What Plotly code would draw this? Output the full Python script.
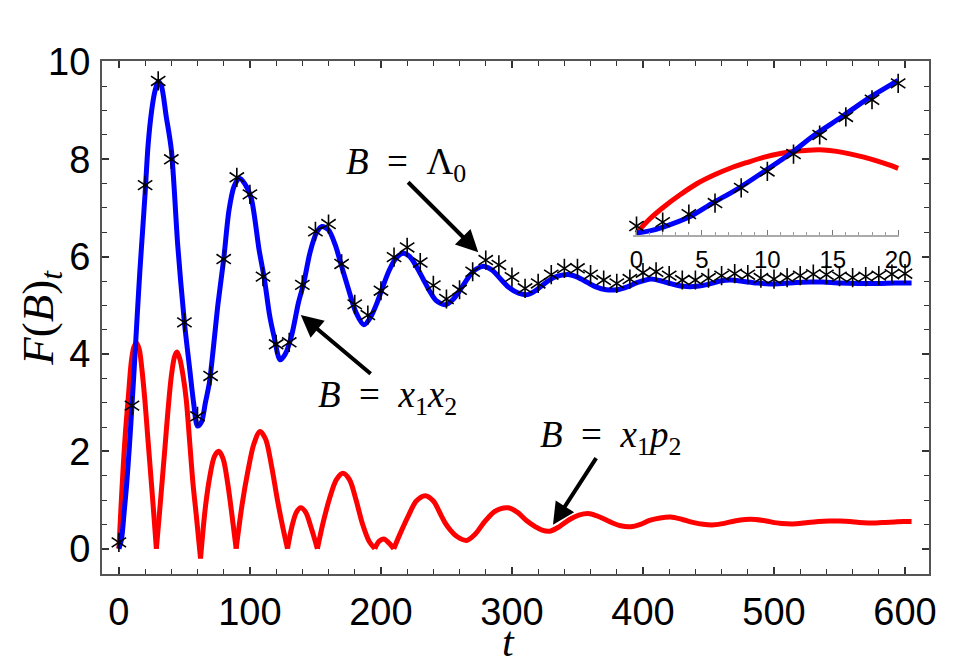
import plotly.graph_objects as go

# ---------------- data ----------------
blue_t = [0, 2, 4, 6, 8, 10, 12, 14, 16, 18, 20, 22.3, 25, 27.5, 30, 32.5, 36, 40, 45, 50,
          54, 57, 60, 63, 66, 69, 72, 75.5, 80, 84, 88, 92, 96, 101, 107, 111, 115, 118.5,
          123, 127, 132, 137, 141, 146, 151, 155, 160, 165, 170, 175, 181, 187, 192, 197,
          201, 206, 211, 217, 222, 227, 232, 237, 242, 249, 255, 262, 268, 273, 279, 285,
          292, 298, 305, 312, 318, 325, 332, 338, 344, 350, 357, 364, 372, 380, 388, 396,
          406, 414, 422, 431, 441, 451, 459, 467, 477, 487, 497, 507, 517, 527, 537, 550,
          565, 580, 592, 605]
blue_y = [0, 0.2, 0.75, 1.35, 2.1, 2.95, 3.85, 4.8, 5.7, 6.5, 7.3, 8.3, 9.0, 9.4, 9.6, 9.5,
          8.9, 8.2, 6.2, 4.65, 3.7, 3.0, 2.52, 2.6, 3.0, 3.4, 4.1, 5.0, 5.95, 6.95, 7.45,
          7.61, 7.5, 7.2, 6.14, 5.55, 4.8, 4.35, 3.88, 4.0, 4.4, 5.05, 5.45, 6.1, 6.5, 6.62,
          6.55, 6.25, 5.8, 5.35, 4.85, 4.6, 4.75, 5.05, 5.35, 5.7, 5.95, 6.07, 6.0, 5.8,
          5.55, 5.3, 5.1, 5.01, 5.12, 5.38, 5.62, 5.75, 5.80, 5.72, 5.52, 5.36, 5.25, 5.22,
          5.3, 5.45, 5.57, 5.62, 5.63, 5.58, 5.48, 5.38, 5.32, 5.32, 5.38, 5.47, 5.54, 5.5,
          5.44, 5.39, 5.39, 5.44, 5.5, 5.52, 5.49, 5.46, 5.44, 5.45, 5.47, 5.48, 5.48, 5.46,
          5.45, 5.45, 5.46, 5.46]

red_t = [0, 1.5, 3.3, 5, 7, 9.5, 11.5, 13.5, 15.5, 17.5, 19.8, 22, 24.8, 26.8, 28.6,
         31.5, 35, 37.5, 40, 42.5, 44.3, 46.5, 49, 51.4, 54, 56.5, 59, 62.3,
         66, 69.5, 73, 76.2, 79.5, 83, 86, 89.5,
         94, 98.5, 103, 107.7, 112, 116.5, 121, 125, 128.7,
         132, 135.5, 138.8, 142.5, 146.5, 151.5,
         156, 161, 166, 171, 176, 181, 186, 191, 195.3,
         198.5, 202.1, 206, 209.8,
         215, 221, 227, 233.8, 240, 246, 249, 253, 258, 265.4, 272, 279, 286, 291, 297.1,
         304, 311, 318, 323, 328.9, 336, 344, 351, 359.3, 367, 375, 383, 390.6, 398, 405,
         413, 421, 430, 438, 446, 454.4, 462, 470, 478, 485.8, 494, 502, 510, 517.1, 526,
         534, 542, 550.5, 558, 565, 572, 577.9, 585, 592, 599, 605]
red_y = [0, 0.8, 1.69, 2.4, 3.05, 3.85, 4.15, 4.22, 4.1, 3.7, 3.06, 2.3, 1.35, 0.65, 0,
         0.9, 2.03, 2.85, 3.54, 3.95, 4.04, 3.9, 3.55, 3.06, 2.2, 1.35, 0.7, -0.2,
         0.85, 1.5, 1.9, 2.0, 1.85, 1.35, 0.75, 0,
         0.9, 1.6, 2.15, 2.41, 2.25, 1.7, 1.0, 0.45, 0,
         0.45, 0.75, 0.84, 0.75, 0.45, 0,
         0.55, 1.05, 1.42, 1.55, 1.42, 1.0, 0.5, 0.15, 0,
         0.15, 0.2, 0.12, 0,
         0.33, 0.68, 0.98, 1.09, 0.98, 0.68, 0.53, 0.38, 0.25, 0.17, 0.3, 0.55, 0.75, 0.82,
         0.84, 0.75, 0.58, 0.45, 0.38, 0.36, 0.45, 0.6, 0.69, 0.72, 0.65, 0.55, 0.47, 0.45,
         0.5, 0.58, 0.63, 0.65, 0.6, 0.54, 0.5, 0.49, 0.52, 0.57, 0.6, 0.6, 0.57, 0.53,
         0.51, 0.51, 0.54, 0.56, 0.57, 0.57, 0.56, 0.54, 0.53, 0.53, 0.54, 0.55, 0.56, 0.56]

star_t = [0, 10, 20, 30, 40, 50, 60, 70, 80, 90, 100, 110, 120, 130, 140, 150, 160, 170,
          180, 190, 200, 210, 220, 230, 240, 250, 260, 270, 280, 290, 300, 310, 320, 330,
          340, 350, 360, 370, 380, 390, 400, 410, 420, 430, 440, 450, 460, 470, 480, 490,
          500, 510, 520, 530, 540, 550, 560, 570, 580, 590, 600]
star_y = [0.13, 2.94, 7.47, 9.61, 8.0, 4.65, 2.72, 3.55, 5.95, 7.63, 7.28, 5.59, 4.2, 4.24,
          5.42, 6.52, 6.67, 5.85, 5.02, 4.8, 5.3, 5.99, 6.19, 5.88, 5.41, 5.13, 5.32, 5.69,
          5.93, 5.83, 5.58, 5.35, 5.45, 5.63, 5.76, 5.76, 5.63, 5.52, 5.45, 5.54, 5.67,
          5.69, 5.61, 5.52, 5.52, 5.56, 5.61, 5.65, 5.63, 5.56, 5.54, 5.57, 5.61, 5.64,
          5.63, 5.59, 5.57, 5.59, 5.61, 5.64, 5.65]

# inset (t = 0 .. 20)
inset_blue_t = [0, 1, 2.1, 4.1, 5.8, 7.8, 9.8, 11.8, 13.6, 15.7, 17.6, 19.7, 20]
inset_blue_y = [0, 0.1, 0.3, 0.8, 1.45, 2.18, 3.02, 3.89, 4.78, 5.67, 6.52, 7.33, 7.45]
inset_red_t = [0, 1, 2.1, 3.3, 4.6, 6, 7.2, 8.5, 9.7, 11, 12.3, 13.5, 14.3, 15.3, 16.3,
               17.3, 18.3, 19.3, 20]
inset_red_y = [0, 0.68, 1.28, 1.85, 2.4, 2.85, 3.17, 3.45, 3.69, 3.88, 4.0, 4.05, 4.05,
               3.98, 3.86, 3.71, 3.53, 3.32, 3.15]
inset_star_t = [0, 2, 4, 6, 8, 10, 12, 14, 16, 18, 20]
inset_star_y = [0.34, 0.53, 0.92, 1.46, 2.2, 3.0, 3.85, 4.78, 5.66, 6.5, 7.3]

x_ticks = [0, 100, 200, 300, 400, 500, 600]
y_ticks = [0, 2, 4, 6, 8, 10]
inset_ticks = [0, 5, 10, 15, 20]

# ---------------- figure ----------------
RED = "#ff0000"
BLUE = "#0000ff"
LW = 5

fig = go.Figure()

# red curve: draw each arch between cusps as its own smooth piece so cusps stay sharp
cusps = [0] + [i for i in range(1, len(red_y) - 1)
               if red_y[i] <= 0 and red_y[i - 1] > red_y[i] < red_y[i + 1]] + [len(red_y) - 1]
for a, b in zip(cusps[:-1], cusps[1:]):
    fig.add_trace(go.Scatter(x=red_t[a:b + 1], y=red_y[a:b + 1], mode="lines",
                             line=dict(color=RED, width=LW, shape="spline", smoothing=0.9),
                             xaxis="x", yaxis="y"))
fig.add_trace(go.Scatter(x=blue_t, y=blue_y, mode="lines",
                         line=dict(color=BLUE, width=LW, shape="spline", smoothing=0.8),
                         xaxis="x", yaxis="y"))
for sym in ["y-up-open", "y-down-open"]:
    fig.add_trace(go.Scatter(x=star_t, y=star_y, mode="markers", cliponaxis=False,
                             marker=dict(symbol=sym, size=12, color="black",
                                         line=dict(color="black", width=1.6)),
                             xaxis="x", yaxis="y"))

fig.add_trace(go.Scatter(x=inset_red_t, y=inset_red_y, mode="lines",
                         line=dict(color=RED, width=LW, shape="spline", smoothing=0.8),
                         xaxis="x2", yaxis="y2"))
fig.add_trace(go.Scatter(x=inset_blue_t, y=inset_blue_y, mode="lines",
                         line=dict(color=BLUE, width=LW, shape="spline", smoothing=0.8),
                         xaxis="x2", yaxis="y2"))
for sym in ["y-up-open", "y-down-open"]:
    fig.add_trace(go.Scatter(x=inset_star_t, y=inset_star_y, mode="markers", cliponaxis=False,
                             marker=dict(symbol=sym, size=12, color="black",
                                         line=dict(color="black", width=1.6)),
                             xaxis="x2", yaxis="y2"))

FRAME = "#555555"
TICKC = "#333333"
tickfont = dict(family="Liberation Sans, Arial, sans-serif", size=38, color="black")

fig.update_layout(
    width=953, height=667,
    margin=dict(l=102, r=20, t=61, b=93, pad=0),
    paper_bgcolor="white", plot_bgcolor="rgba(0,0,0,0)",
    showlegend=False,
    xaxis=dict(range=[-12.9, 618.3], showline=True, linecolor=FRAME, linewidth=2,
               mirror="ticks", ticks="inside", ticklen=7, tickwidth=1.5, tickcolor=TICKC,
               tickvals=x_ticks, ticktext=[str(v) for v in x_ticks],
               minor=dict(dtick=20, tick0=0, ticks="inside", ticklen=5, tickwidth=1.2,
                          tickcolor=TICKC, showgrid=False),
               showgrid=False, zeroline=False, tickfont=tickfont, ticklabelstandoff=3),
    yaxis=dict(range=[-0.52, 10.02], showline=True, linecolor=FRAME, linewidth=2,
               mirror="ticks", ticks="inside", ticklen=7, tickwidth=1.5, tickcolor=TICKC,
               tickvals=y_ticks, ticktext=[str(v) for v in y_ticks],
               minor=dict(dtick=0.5, tick0=0, ticks="inside", ticklen=5, tickwidth=1.2,
                          tickcolor=TICKC, showgrid=False),
               showgrid=False, zeroline=False, tickfont=tickfont, ticklabelstandoff=2),
    xaxis2=dict(domain=[0.6416, 0.9643], anchor="y2", range=[-0.3, 20.1],
                showline=True, linecolor="#aaaaaa", linewidth=1.5,
                ticks="inside", ticklen=5, tickwidth=1.2, tickcolor="#777777",
                tickvals=inset_ticks, ticktext=[str(v) for v in inset_ticks],
                minor=dict(dtick=1, tick0=0, ticks="inside", ticklen=3, tickwidth=1,
                           tickcolor="#999999", showgrid=False),
                showgrid=False, zeroline=False, ticklabelstandoff=2,
                tickfont=dict(family="Liberation Sans, Arial, sans-serif", size=24,
                              color="black")),
    yaxis2=dict(domain=[0.6608, 0.9844], anchor="x2", range=[-0.1, 8.0], visible=False),
)

serif = "Liberation Serif, Times New Roman, serif"
ann_font = dict(family=serif, size=37, color="black")

annotations = [
    # axis titles
    dict(text="<i>F</i>(<i>B</i>)<sub><i>t</i></sub>", xref="paper", yref="paper",
         x=-0.0746, y=0.5, xanchor="center", yanchor="middle", showarrow=False,
         textangle=-90, font=dict(family=serif, size=45, color="black")),
    dict(text="<i>t</i>", xref="paper", yref="paper", x=0.491, y=-0.181,
         xanchor="center", yanchor="bottom", showarrow=False,
         font=dict(family=serif, size=42, color="black")),
    # labels
    dict(text="<i>B</i>  =  Λ<sub>0</sub>", x=219, y=7.9, xref="x", yref="y",
         showarrow=False, font=ann_font),
    dict(text="<i>B</i>  =  <i>x</i><sub>1</sub><i>x</i><sub>2</sub>", x=205, y=3.1,
         xref="x", yref="y", showarrow=False, font=ann_font),
    dict(text="<i>B</i>  =  <i>x</i><sub>1</sub><i>p</i><sub>2</sub>", x=375, y=2.28,
         xref="x", yref="y", showarrow=False, font=ann_font),
    # arrows
    dict(text="", x=274.3, y=6.09, ax=219.6, ay=7.56, xref="x", yref="y", axref="x",
         ayref="y", showarrow=True, arrowhead=2, arrowsize=1.1, arrowwidth=4,
         arrowcolor="black"),
    dict(text="", x=138.8, y=4.8, ax=193.3, ay=3.57, xref="x", yref="y", axref="x",
         ayref="y", showarrow=True, arrowhead=2, arrowsize=1.1, arrowwidth=4,
         arrowcolor="black"),
    dict(text="", x=331.3, y=0.49, ax=365, ay=1.89, xref="x", yref="y", axref="x",
         ayref="y", showarrow=True, arrowhead=2, arrowsize=1.1, arrowwidth=4,
         arrowcolor="black"),
]
fig.update_layout(annotations=annotations)

fig.write_html("out.html")
